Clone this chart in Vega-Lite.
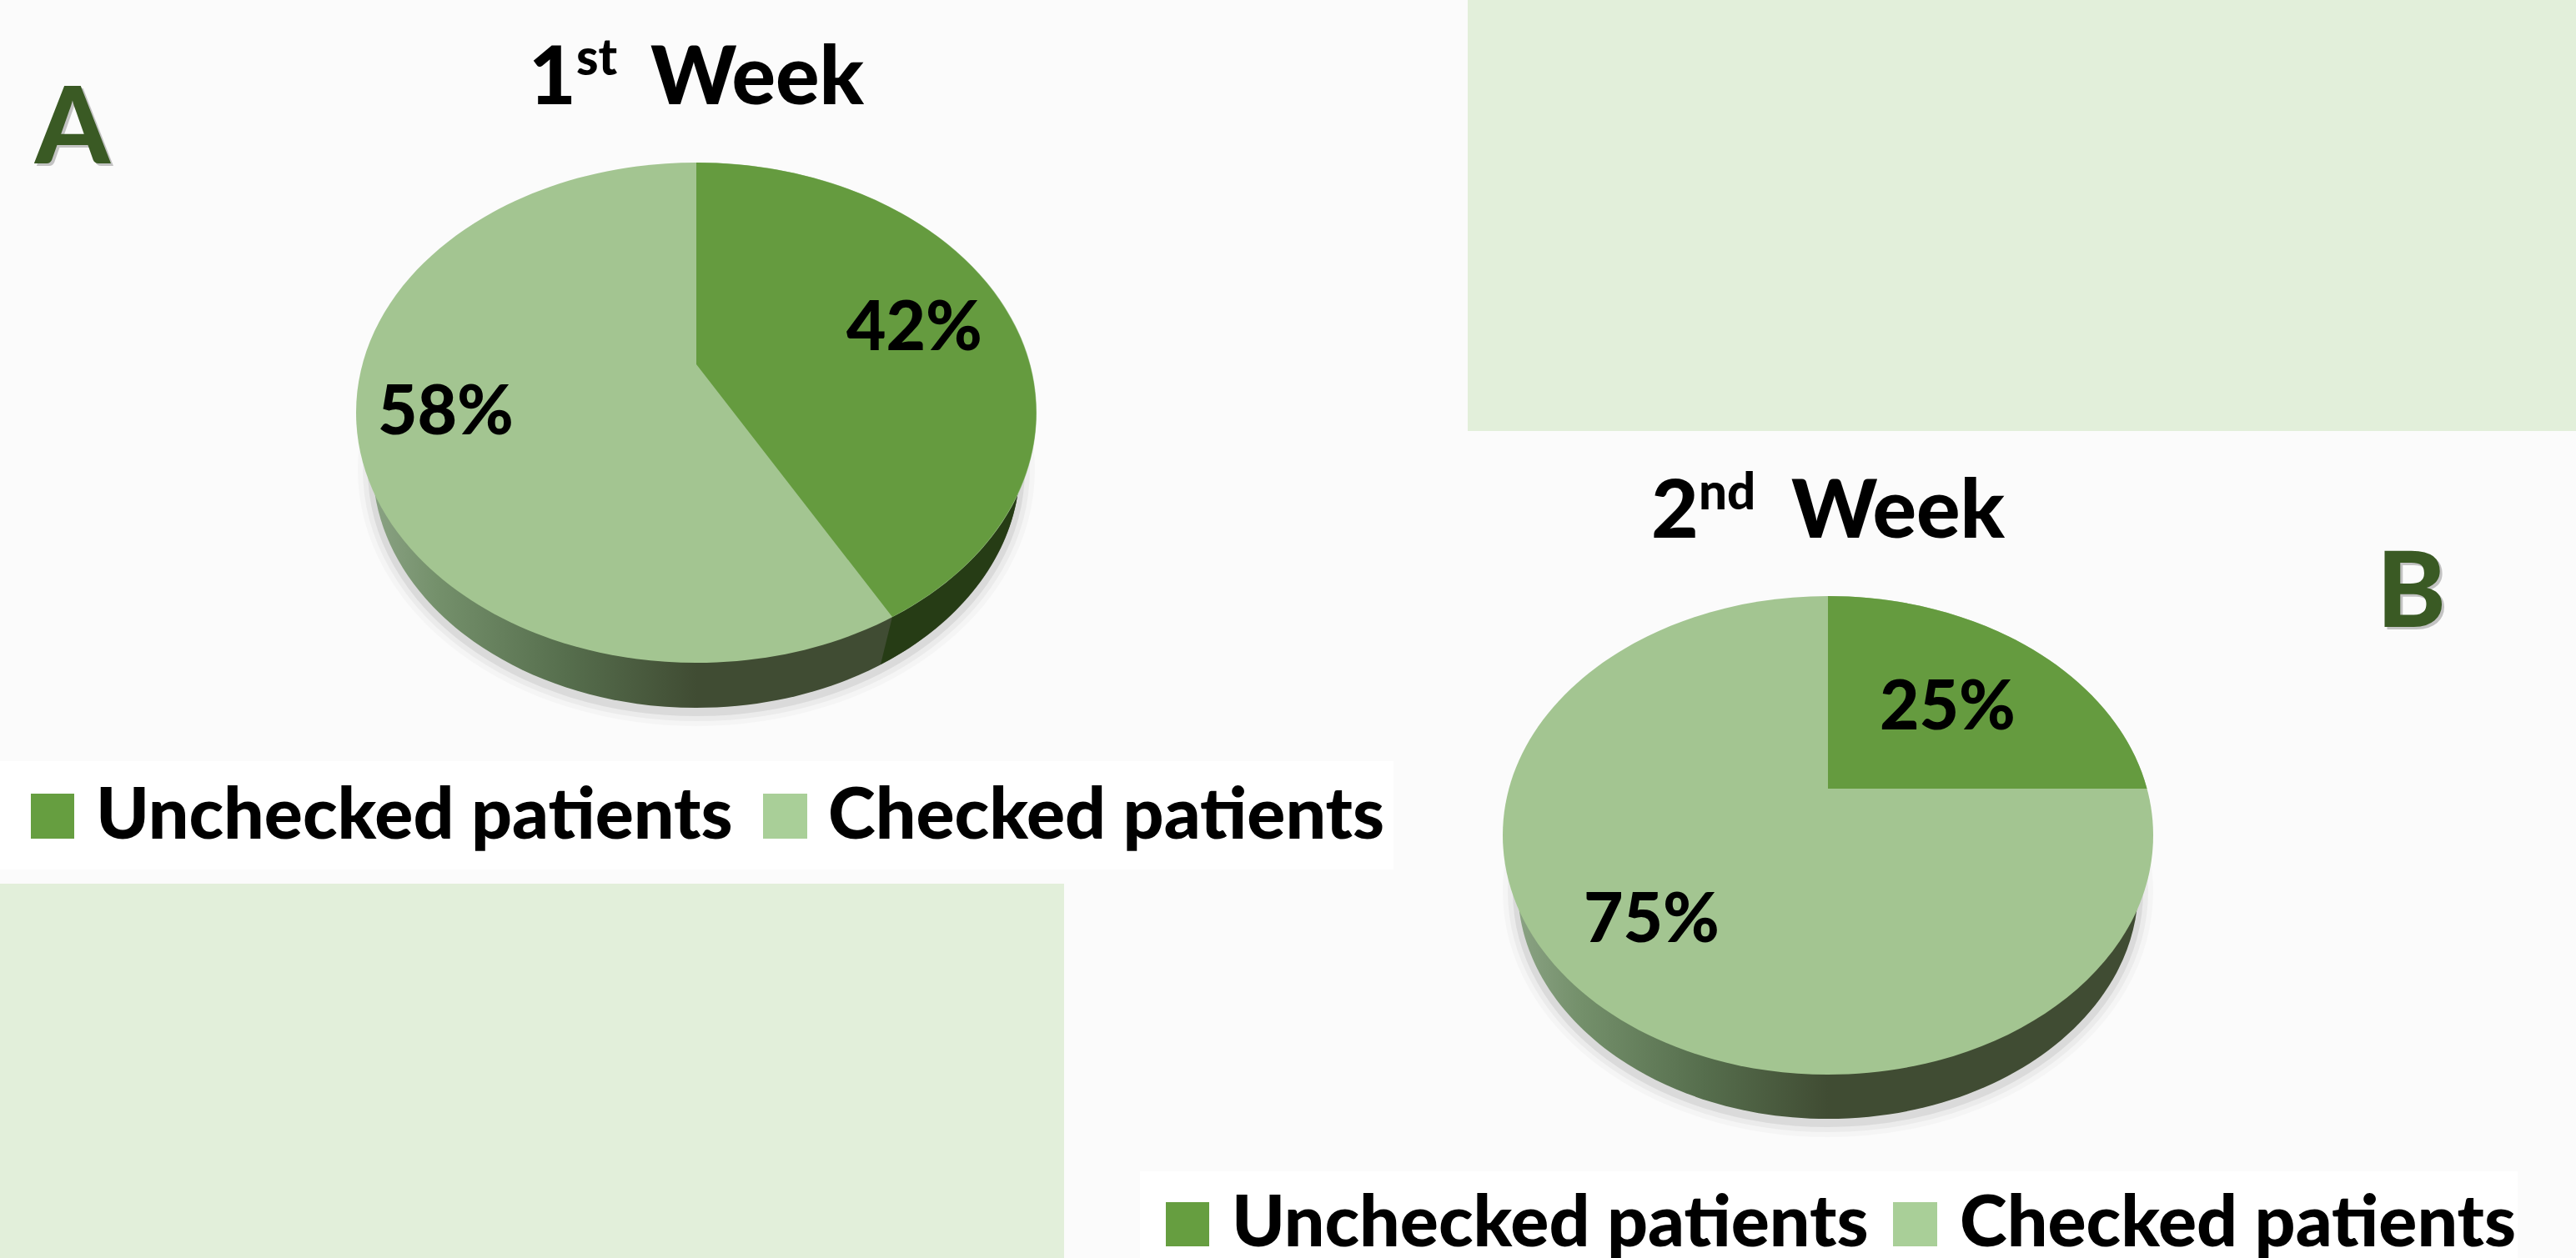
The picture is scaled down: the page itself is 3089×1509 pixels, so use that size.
{"$schema":"https://vega.github.io/schema/vega-lite/v6.json","width":3089,"height":1509,"padding":0,"autosize":{"type":"fit","contains":"padding"},"background":"#fbfbfb","config":{"view":{"stroke":null},"text":{"font":"Lato","fontWeight":900,"align":"left","baseline":"alphabetic"}},
"datasets":{"weeks":[{"week":"1st Week","panel":"A","ordinal":"1","suffix":"st","word":"Week"},{"week":"2nd Week","panel":"B","ordinal":"2","suffix":"nd","word":"Week"}],
"slices":[{"week":"1st Week","category":"Unchecked patients","value":42,"label":"42%"},{"week":"1st Week","category":"Checked patients","value":58,"label":"58%"},{"week":"2nd Week","category":"Unchecked patients","value":25,"label":"25%"},{"week":"2nd Week","category":"Checked patients","value":75,"label":"75%"}]},
"encoding":{"x":{"field":"week","type":"nominal","axis":null,"scale":{"type":"point","domain":["1st Week","2nd Week"],"range":[835,2192],"padding":0}},"y":{"field":"week","type":"nominal","axis":null,"scale":{"type":"point","domain":["1st Week","2nd Week"],"range":[437,946],"padding":0}}},
"layer":[
{"data":{"name":"weeks"},"transform":[{"filter":"datum.panel=='A'"}],"mark":{"type":"point","filled":true,"opacity":1,"size":4,"strokeWidth":0,"fill":"#e2efda","shape":"M-835,623L441,623L441,1072L-835,1072Z"}},
{"data":{"name":"weeks"},"transform":[{"filter":"datum.panel=='B'"}],"mark":{"type":"point","filled":true,"opacity":1,"size":4,"strokeWidth":0,"fill":"#e2efda","shape":"M-432,-946L897,-946L897,-429L-432,-429Z"}},
{"data":{"name":"weeks"},"transform":[{"filter":"datum.panel=='A'"}],"mark":{"type":"point","filled":true,"opacity":1,"size":4,"strokeWidth":0,"fill":"#ffffff","shape":"M-835,476L836,476L836,606L-835,606Z"}},
{"data":{"name":"weeks"},"transform":[{"filter":"datum.panel=='B'"}],"mark":{"type":"point","filled":true,"opacity":1,"size":4,"strokeWidth":0,"fill":"#ffffff","shape":"M-825,459L827,459L827,563L-825,563Z"}},

{"data":{"name":"weeks"},"transform":[{"filter":"datum.panel=='A'"}],"mark":{"type":"point","filled":false,"opacity":1,"size":4,"stroke":"#000","strokeOpacity":0.025,"strokeWidth":36,"yOffset":4,"shape":"M-388,122A388,290 0 1 1 388,122A388,290 0 1 1 -388,122Z"}},
{"data":{"name":"weeks"},"transform":[{"filter":"datum.panel=='A'"}],"mark":{"type":"point","filled":false,"opacity":1,"size":4,"stroke":"#000","strokeOpacity":0.04,"strokeWidth":24,"yOffset":4,"shape":"M-388,122A388,290 0 1 1 388,122A388,290 0 1 1 -388,122Z"}},
{"data":{"name":"weeks"},"transform":[{"filter":"datum.panel=='A'"}],"mark":{"type":"point","filled":false,"opacity":1,"size":4,"stroke":"#000","strokeOpacity":0.07,"strokeWidth":12,"yOffset":4,"shape":"M-388,122A388,290 0 1 1 388,122A388,290 0 1 1 -388,122Z"}},
{"data":{"name":"weeks"},"transform":[{"filter":"datum.panel=='B'"}],"mark":{"type":"point","filled":false,"opacity":1,"size":4,"stroke":"#000","strokeOpacity":0.025,"strokeWidth":36,"yOffset":4,"shape":"M-372,119A372,277 0 1 1 372,119A372,277 0 1 1 -372,119Z"}},
{"data":{"name":"weeks"},"transform":[{"filter":"datum.panel=='B'"}],"mark":{"type":"point","filled":false,"opacity":1,"size":4,"stroke":"#000","strokeOpacity":0.04,"strokeWidth":24,"yOffset":4,"shape":"M-372,119A372,277 0 1 1 372,119A372,277 0 1 1 -372,119Z"}},
{"data":{"name":"weeks"},"transform":[{"filter":"datum.panel=='B'"}],"mark":{"type":"point","filled":false,"opacity":1,"size":4,"stroke":"#000","strokeOpacity":0.07,"strokeWidth":12,"yOffset":4,"shape":"M-372,119A372,277 0 1 1 372,119A372,277 0 1 1 -372,119Z"}},

{"data":{"name":"weeks"},"transform":[{"filter":"datum.panel=='A'"}],"mark":{"type":"point","filled":true,"opacity":1,"size":4,"strokeWidth":0,"fill":{"gradient":"linear","x1":0,"x2":1,"y1":0,"y2":0,"stops":[{"offset":0,"color":"#8aa283"},{"offset":0.1,"color":"#74906b"},{"offset":0.3,"color":"#566e4d"},{"offset":0.5,"color":"#404c33"},{"offset":1,"color":"#404c33"}]},"shape":"M-388,122A388,290 0 1 1 388,122A388,290 0 1 1 -388,122Z"}},
{"data":{"name":"weeks"},"transform":[{"filter":"datum.panel=='A'"}],"mark":{"type":"point","filled":true,"opacity":1,"size":4,"strokeWidth":0,"fill":"#263c15","shape":"M235,303L221,360A388,290 0 0 0 388,122L408,58Z"}},
{"data":{"name":"weeks"},"transform":[{"filter":"datum.panel=='B'"}],"mark":{"type":"point","filled":true,"opacity":1,"size":4,"strokeWidth":0,"fill":{"gradient":"linear","x1":0,"x2":1,"y1":0,"y2":0,"stops":[{"offset":0,"color":"#8aa283"},{"offset":0.1,"color":"#74906b"},{"offset":0.3,"color":"#566e4d"},{"offset":0.5,"color":"#404c33"},{"offset":1,"color":"#404c33"}]},"shape":"M-372,119A372,277 0 1 1 372,119A372,277 0 1 1 -372,119Z"}},

{"data":{"name":"slices"},"transform":[{"filter":"datum.week=='1st Week'&&datum.value==58"}],"mark":{"type":"point","filled":true,"opacity":1,"size":4,"strokeWidth":0,"fill":"#a3c591","shape":"M-408,58A408,300 0 1 1 408,58A408,300 0 1 1 -408,58Z"}},
{"data":{"name":"slices"},"transform":[{"filter":"datum.week=='1st Week'&&datum.value==42"}],"mark":{"type":"point","filled":true,"opacity":1,"size":4,"strokeWidth":0,"fill":"#659b3f","shape":"M0,0L0,-242A408,300 0 0 1 235,303Z"}},
{"data":{"name":"slices"},"transform":[{"filter":"datum.week=='2nd Week'&&datum.value==75"}],"mark":{"type":"point","filled":true,"opacity":1,"size":4,"strokeWidth":0,"fill":"#a3c591","shape":"M-390,56A390,287 0 1 1 390,56A390,287 0 1 1 -390,56Z"}},
{"data":{"name":"slices"},"transform":[{"filter":"datum.week=='2nd Week'&&datum.value==25"}],"mark":{"type":"point","filled":true,"opacity":1,"size":4,"strokeWidth":0,"fill":"#659b3f","shape":"M0,0L0,-231A390,287 0 0 1 382.5,0Z"}},

{"data":{"name":"slices"},"transform":[{"filter":"datum.value==42"}],"mark":{"type":"text","fontSize":82,"dx":180,"dy":-17},"encoding":{"text":{"field":"label"}}},
{"data":{"name":"slices"},"transform":[{"filter":"datum.value==58"}],"mark":{"type":"text","fontSize":82,"dx":-382,"dy":84},"encoding":{"text":{"field":"label"}}},
{"data":{"name":"slices"},"transform":[{"filter":"datum.value==25"}],"mark":{"type":"text","fontSize":82,"dx":62,"dy":-71},"encoding":{"text":{"field":"label"}}},
{"data":{"name":"slices"},"transform":[{"filter":"datum.value==75"}],"mark":{"type":"text","fontSize":82,"dx":-293,"dy":184},"encoding":{"text":{"field":"label"}}},

{"data":{"name":"weeks"},"transform":[{"filter":"datum.panel=='A'"}],"mark":{"type":"text","fontSize":98,"dx":-201,"dy":-312},"encoding":{"text":{"field":"ordinal"}}},
{"data":{"name":"weeks"},"transform":[{"filter":"datum.panel=='A'"}],"mark":{"type":"text","fontSize":60,"dx":-144,"dy":-347},"encoding":{"text":{"field":"suffix"}}},
{"data":{"name":"weeks"},"transform":[{"filter":"datum.panel=='A'"}],"mark":{"type":"text","fontSize":98,"dx":-55,"dy":-312},"encoding":{"text":{"field":"word"}}},
{"data":{"name":"weeks"},"transform":[{"filter":"datum.panel=='B'"}],"mark":{"type":"text","fontSize":98,"dx":-212,"dy":-301},"encoding":{"text":{"field":"ordinal"}}},
{"data":{"name":"weeks"},"transform":[{"filter":"datum.panel=='B'"}],"mark":{"type":"text","fontSize":60,"dx":-155,"dy":-335},"encoding":{"text":{"field":"suffix"}}},
{"data":{"name":"weeks"},"transform":[{"filter":"datum.panel=='B'"}],"mark":{"type":"text","fontSize":98,"dx":-44,"dy":-301},"encoding":{"text":{"field":"word"}}},

{"data":{"name":"weeks"},"transform":[{"filter":"datum.panel=='A'"}],"mark":{"type":"text","fontSize":128,"dx":-790,"dy":-238,"fill":"#000","opacity":0.22},"encoding":{"text":{"field":"panel"}}},
{"data":{"name":"weeks"},"transform":[{"filter":"datum.panel=='A'"}],"mark":{"type":"text","fontSize":128,"dx":-793,"dy":-241,"fill":"#3a5a24"},"encoding":{"text":{"field":"panel"}}},
{"data":{"name":"weeks"},"transform":[{"filter":"datum.panel=='B'"}],"mark":{"type":"text","fontSize":125,"dx":661,"dy":-191,"fill":"#000","opacity":0.22},"encoding":{"text":{"field":"panel"}}},
{"data":{"name":"weeks"},"transform":[{"filter":"datum.panel=='B'"}],"mark":{"type":"text","fontSize":125,"dx":658,"dy":-194,"fill":"#3a5a24"},"encoding":{"text":{"field":"panel"}}},

{"data":{"name":"slices"},"transform":[{"filter":"datum.value==42"}],"mark":{"type":"point","filled":true,"opacity":1,"size":4,"strokeWidth":0,"fill":"#669e40","shape":"M-798,515L-746,515L-746,569L-798,569Z"}},
{"data":{"name":"slices"},"transform":[{"filter":"datum.value==58"}],"mark":{"type":"point","filled":true,"opacity":1,"size":4,"strokeWidth":0,"fill":"#a9cf98","shape":"M80,515L133,515L133,569L80,569Z"}},
{"data":{"name":"slices"},"transform":[{"filter":"datum.value==25"}],"mark":{"type":"point","filled":true,"opacity":1,"size":4,"strokeWidth":0,"fill":"#669e40","shape":"M-794,496L-742,496L-742,549L-794,549Z"}},
{"data":{"name":"slices"},"transform":[{"filter":"datum.value==75"}],"mark":{"type":"point","filled":true,"opacity":1,"size":4,"strokeWidth":0,"fill":"#a9cf98","shape":"M78,496L131,496L131,549L78,549Z"}},
{"data":{"name":"slices"},"transform":[{"filter":"datum.value==42"}],"mark":{"type":"text","fontSize":86,"dx":-720,"dy":569},"encoding":{"text":{"field":"category"}}},
{"data":{"name":"slices"},"transform":[{"filter":"datum.value==58"}],"mark":{"type":"text","fontSize":86,"dx":158,"dy":569},"encoding":{"text":{"field":"category"}}},
{"data":{"name":"slices"},"transform":[{"filter":"datum.value==25"}],"mark":{"type":"text","fontSize":86,"dx":-715,"dy":549},"encoding":{"text":{"field":"category"}}},
{"data":{"name":"slices"},"transform":[{"filter":"datum.value==75"}],"mark":{"type":"text","fontSize":86,"dx":158,"dy":549},"encoding":{"text":{"field":"category"}}}
]}
